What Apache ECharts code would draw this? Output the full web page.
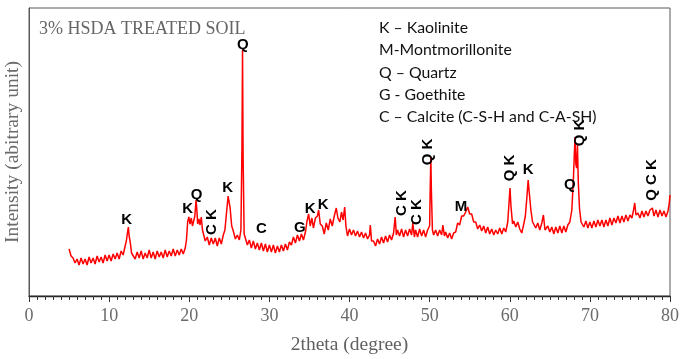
<!DOCTYPE html>
<html>
<head>
<meta charset="utf-8">
<script src="https://cdn.jsdelivr.net/npm/echarts@6/dist/echarts.min.js"></script>
<style>
  html, body { margin: 0; padding: 0; background: #fff; }
  #chart { width: 680px; height: 359px; }
</style>
</head>
<body>
<div id="chart"></div>
<script>
// XRD scan of 3% HSDA treated soil: [2theta (deg), intensity (a.u.)]
const scan5to20 = [
  [5.00,47],[5.25,40],[5.50,38],[5.75,33],[6.00,37],[6.25,31],[6.50,38],[6.75,32],[7.00,37],[7.25,31],
  [7.50,39],[7.75,33],[8.00,38],[8.25,32],[8.50,40],[8.75,34],[9.00,39],[9.25,33],[9.50,41],[9.75,35],
  [10.00,41],[10.25,35],[10.50,42],[10.75,37],[11.00,43],[11.25,37],[11.50,45],[11.75,41],[12.00,50],
  [12.15,55],[12.30,64],[12.40,69],[12.50,60],[12.65,53],[12.80,43],[13.00,44],[13.25,37],[13.50,44],
  [13.75,38],[14.00,45],[14.25,37],[14.50,43],[14.75,38],[15.00,46],[15.25,38],[15.50,44],[15.75,37],
  [16.00,45],[16.25,39],[16.50,44],[16.75,38],[17.00,46],[17.25,39],[17.50,45],[17.75,40],[18.00,47],
  [18.25,40],[18.50,46],[18.75,41],[19.00,47],[19.25,42],[19.50,48],[19.65,56],[19.80,74],[19.95,79]
];
const scan20to40 = [
  [20.10,72],[20.25,78],[20.40,70],[20.55,75],[20.70,80],[20.85,96],[20.95,86],[21.05,72],[21.20,77],
  [21.35,71],[21.50,79],[21.65,66],[21.80,64],[22.00,55],[22.25,59],[22.50,51],[22.75,58],[23.00,52],
  [23.25,58],[23.50,50],[23.75,58],[24.00,52],[24.25,61],[24.45,66],[24.65,83],[24.85,100],[24.95,95],
  [25.10,88],[25.30,70],[25.50,65],[25.75,57],[26.00,61],[26.25,56],[26.45,66],[26.58,150],[26.65,246],
  [26.72,140],[26.85,62],[27.00,58],[27.25,51],[27.50,56],[27.75,48],[28.00,55],[28.25,47],[28.50,53],
  [28.75,46],[29.00,53],[29.25,45],[29.50,52],[29.75,44],[30.00,51],[30.25,44],[30.50,51],[30.75,43],
  [31.00,50],[31.25,44],[31.50,51],[31.75,45],[32.00,52],[32.25,46],[32.50,54],[32.75,51],[33.00,59],
  [33.25,53],[33.50,61],[33.75,55],[34.00,62],[34.25,56],[34.50,64],[34.70,75],[34.90,82],[35.10,70],
  [35.30,78],[35.50,68],[35.75,78],[36.00,80],[36.15,86],[36.35,72],[36.60,70],[36.85,62],[37.10,73],
  [37.35,66],[37.60,77],[37.85,70],[38.10,80],[38.35,88],[38.55,78],[38.80,74],[39.00,84],[39.20,76],
  [39.40,89],[39.55,70],[39.75,60]
];
const scan40to60 = [
  [40.00,67],[40.25,61],[40.50,66],[40.75,60],[41.00,65],[41.25,59],[41.50,64],[41.75,58],[42.00,63],
  [42.25,57],[42.50,61],[42.60,71],[42.75,55],[43.00,55],[43.25,50],[43.50,57],[43.75,52],[44.00,59],
  [44.25,53],[44.50,60],[44.75,54],[45.00,61],[45.25,56],[45.50,63],[45.70,79],[45.85,61],[46.00,66],
  [46.25,60],[46.50,67],[46.75,59],[47.00,66],[47.25,60],[47.50,67],[47.75,61],[47.90,73],[48.10,59],
  [48.25,66],[48.50,59],[48.75,67],[49.00,60],[49.25,66],[49.50,59],[49.75,66],[50.00,70],[50.08,110],
  [50.15,139],[50.22,105],[50.35,66],[50.50,61],[50.75,66],[51.00,60],[51.25,66],[51.50,61],[51.65,71],
  [51.85,60],[52.00,64],[52.25,58],[52.50,63],[52.75,57],[53.00,63],[53.25,64],[53.50,73],[53.75,71],
  [54.00,80],[54.25,80],[54.50,84],[54.75,89],[55.00,82],[55.25,82],[55.50,74],[55.75,74],[56.00,67],
  [56.25,71],[56.50,65],[56.75,70],[57.00,63],[57.25,69],[57.50,62],[57.75,67],[58.00,61],[58.25,66],
  [58.50,62],[58.75,68],[59.00,62],[59.25,68],[59.50,64],[59.75,74],[59.90,92],[60.03,108],[60.15,90],
  [60.35,72]
];
const scan60to80 = [
  [60.50,75],[60.75,69],[61.00,74],[61.25,67],[61.50,63],[61.75,72],[61.95,80],[62.15,100],[62.30,116],
  [62.45,102],[62.65,85],[62.85,74],[63.00,76],[63.25,68],[63.50,73],[63.75,66],[64.00,73],[64.20,81],
  [64.40,66],[64.75,70],[65.00,64],[65.25,69],[65.50,62],[65.75,69],[66.00,63],[66.25,70],[66.50,63],
  [66.75,70],[67.00,64],[67.25,71],[67.50,74],[67.75,86],[67.95,118],[68.05,140],[68.15,159],[68.25,132],
  [68.35,128],[68.45,151],[68.55,115],[68.70,88],[68.90,74],[69.10,75],[69.25,69],[69.50,75],[69.75,68],
  [70.00,74],[70.25,68],[70.50,75],[70.75,69],[71.00,76],[71.25,70],[71.50,76],[71.75,69],[72.00,76],
  [72.25,70],[72.50,78],[72.75,71],[73.00,78],[73.25,73],[73.50,80],[73.75,73],[74.00,80],[74.25,74],
  [74.50,81],[74.75,75],[75.00,81],[75.25,78],[75.45,86],[75.60,93],[75.75,81],[76.00,83],[76.25,78],
  [76.50,85],[76.75,79],[77.00,85],[77.25,80],[77.50,86],[77.80,88],[78.00,80],[78.25,86],[78.50,79],
  [78.75,86],[79.00,80],[79.25,85],[79.50,79],[79.75,85],[79.90,92],[80.00,101]
];

// Phase identification labels: [text, 2theta, intensity level, vertical?]
const phaseLabels = [
  ['K', 12.2, 76, false],
  ['K', 19.8, 87, false],
  ['Q', 20.9, 101, false],
  ['C K', 22.8, 74, true],
  ['K', 24.8, 108, false],
  ['Q', 26.7, 251, false],
  ['C', 29.0, 67, false],
  ['G', 33.8, 68, false],
  ['K', 35.1, 87, false],
  ['K', 36.7, 91, false],
  ['C K', 46.55, 93, true],
  ['C K', 48.4, 84, true],
  ['Q K', 49.8, 144, true],
  ['M', 53.9, 89, false],
  ['Q K', 60.0, 128, true],
  ['K', 62.3, 126, false],
  ['Q', 67.5, 111, false],
  ['Q K', 68.8, 163, true],
  ['Q C K', 77.75, 116, true]
];

const legendLines = [
  'K \u2013 Kaolinite',
  'M-Montmorillonite',
  'Q \u2013 Quartz',
  'G - Goethite',
  'C \u2013 Calcite (C-S-H and C-A-SH)'
];

const xTicks = [0, 10, 20, 30, 40, 50, 60, 70, 80];

const scan = [].concat(scan5to20, scan20to40, scan40to60, scan60to80);

const chart = echarts.init(document.getElementById('chart'), null, { renderer: 'canvas' });

const serif = '"Liberation Serif", "Times New Roman", serif';
const labelFont = '"Liberation Sans", Arial, sans-serif';

chart.setOption({
  animation: false,
  backgroundColor: '#ffffff',
  title: {
    text: '3% HSDA TREATED SOIL',
    left: 34,
    top: 15,
    textStyle: { fontFamily: serif, fontSize: 18, fontWeight: 'normal', color: '#666666' }
  },
  grid: {
    left: 29, right: 10, top: 8, bottom: 63,
    outerBoundsMode: 'none',
    containLabel: false,
    show: true, borderColor: '#595959', borderWidth: 1
  },
  graphic: legendLines.map((t, i) => ({
    type: 'text',
    left: 379,
    top: 20 + i * 22.2,
    style: { text: t, font: '15.8px Lato, "Open Sans", sans-serif', fill: '#111' }
  })),
  xAxis: {
    type: 'value',
    min: xTicks[0],
    max: xTicks[xTicks.length - 1],
    interval: 10,
    name: '2theta (degree)',
    nameLocation: 'middle',
    nameGap: 39,
    nameTextStyle: { fontFamily: serif, fontSize: 19.5, color: '#606060' },
    axisLine: { show: true, lineStyle: { color: '#2a2a2a', width: 1.4 } },
    axisTick: { show: true, length: 6, lineStyle: { color: '#333' } },
    minorTick: { show: true, splitNumber: 10, length: 4, lineStyle: { color: '#333' } },
    axisLabel: { fontFamily: serif, fontSize: 18, color: '#6b6b6b', margin: 11 },
    splitLine: { show: false }
  },
  yAxis: {
    type: 'value',
    min: 0,
    max: 288,
    name: 'Intensity (abitrary unit)',
    nameLocation: 'middle',
    nameGap: 6,
    nameTextStyle: { fontFamily: serif, fontSize: 19.5, color: '#6b6b6b' },
    axisLine: { show: true, lineStyle: { color: '#595959' } },
    axisTick: { show: false },
    axisLabel: { show: false },
    splitLine: { show: false }
  },
  series: [
    {
      type: 'line',
      data: scan,
      symbol: 'none',
      lineStyle: { color: '#ff0000', width: 1.5 },
      z: 2
    },
    {
      type: 'scatter',
      symbolSize: 0,
      silent: true,
      z: 3,
      itemStyle: { opacity: 1 },
      data: phaseLabels.map(p => ({
        value: [p[1], p[2]],
        label: {
          show: true,
          position: 'inside',
          formatter: p[0],
          rotate: p[3] ? 90 : 0,
          fontFamily: labelFont,
          fontWeight: 'bold',
          fontSize: 15,
          color: '#000000'
        }
      }))
    }
  ]
});
</script>
</body>
</html>
